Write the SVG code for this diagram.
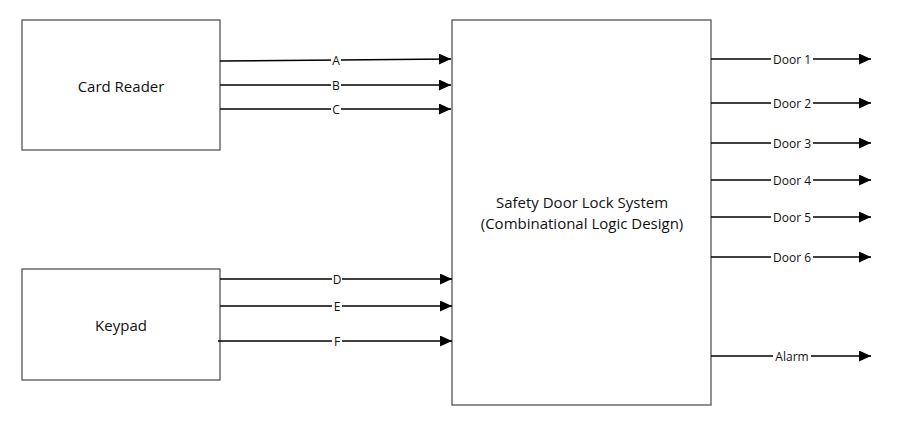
<svg xmlns="http://www.w3.org/2000/svg" width="912" height="428" viewBox="0 0 912 428">
<defs>
<marker id="arr" markerWidth="12" markerHeight="11" refX="12" refY="5.5" orient="auto" markerUnits="userSpaceOnUse">
<path d="M0,0 L12,5.5 L0,11 Z" fill="#000"/>
</marker>
</defs>
<style>
.box{fill:#fff;stroke:#555;stroke-width:1.3}
.t{font-family:"Open Sans","Liberation Sans",sans-serif;font-size:15px;fill:#111;text-anchor:middle;dominant-baseline:central}
.w{stroke:#000;stroke-width:1.6;fill:none;marker-end:url(#arr)}
.lb{font-family:"Open Sans","Liberation Sans",sans-serif;font-size:12px;fill:#111;text-anchor:middle;dominant-baseline:central}
.bg{fill:#fff}
</style>
<rect width="912" height="428" fill="#fff"/>
<g id="card-reader">
<rect class="box" x="22" y="20" width="198" height="130"/>
<text class="t" x="121" y="86">Card Reader</text>
</g>
<g id="keypad">
<rect class="box" x="22" y="269" width="198" height="111"/>
<text class="t" x="121" y="325">Keypad</text>
</g>
<g id="system">
<rect class="box" x="452" y="20" width="259" height="385"/>
<text class="t" x="582" y="202">Safety Door Lock System</text>
<text class="t" x="582" y="223">(Combinational Logic Design)</text>
</g>
<g id="connectors">
<path class="w" d="M220,61 L451,59"/>
<path class="w" d="M220,85 L451,85"/>
<path class="w" d="M220,109 L451,109"/>
<path class="w" d="M220,279 L452,279"/>
<path class="w" d="M220,306 L452,306"/>
<path class="w" d="M218,341 L452,341"/>
<path class="w" d="M711,59 L871,59"/>
<path class="w" d="M711,103 L871,103"/>
<path class="w" d="M711,143 L871,143"/>
<path class="w" d="M711,180 L871,180"/>
<path class="w" d="M711,217 L871,217"/>
<path class="w" d="M711,257 L871,257"/>
<path class="w" d="M711,356 L871,356"/>
<rect class="bg" x="331" y="53" width="10" height="14"/><text class="lb" x="336" y="60">A</text>
<rect class="bg" x="331" y="78" width="10" height="14"/><text class="lb" x="336" y="85">B</text>
<rect class="bg" x="331" y="102" width="10" height="14"/><text class="lb" x="336" y="109">C</text>
<rect class="bg" x="332" y="272" width="10" height="14"/><text class="lb" x="337" y="279">D</text>
<rect class="bg" x="332" y="299" width="10" height="14"/><text class="lb" x="337" y="306">E</text>
<rect class="bg" x="332" y="334" width="10" height="14"/><text class="lb" x="337" y="341">F</text>
<rect class="bg" x="771" y="52" width="42" height="14"/><text class="lb" x="792" y="59">Door 1</text>
<rect class="bg" x="771" y="96" width="42" height="14"/><text class="lb" x="792" y="103">Door 2</text>
<rect class="bg" x="771" y="136" width="42" height="14"/><text class="lb" x="792" y="143">Door 3</text>
<rect class="bg" x="771" y="173" width="42" height="14"/><text class="lb" x="792" y="180">Door 4</text>
<rect class="bg" x="771" y="210" width="42" height="14"/><text class="lb" x="792" y="217">Door 5</text>
<rect class="bg" x="771" y="250" width="42" height="14"/><text class="lb" x="792" y="257">Door 6</text>
<rect class="bg" x="773" y="349" width="38" height="14"/><text class="lb" x="792" y="356">Alarm</text>
</g>
</svg>
